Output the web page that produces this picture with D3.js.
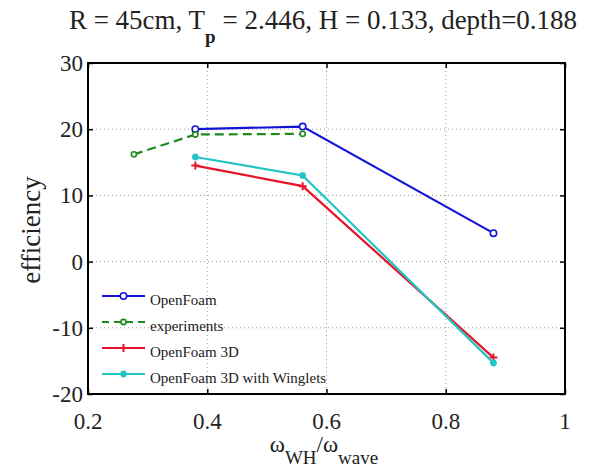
<!DOCTYPE html>
<html>
<head>
<meta charset="utf-8">
<script src="https://cdn.jsdelivr.net/npm/d3@7"></script>
<style>
  body { margin: 0; background: #fff; }
  svg { display: block; }
  text { font-family: "Liberation Serif", "Times New Roman", serif; fill: #222; }
  .grid line { stroke: #999; stroke-width: 1; stroke-dasharray: 1,3; }
</style>
</head>
<body>
<script>
// axis ticks
var xTicks = [0.2, 0.4, 0.6, 0.8, 1];
var xTickLabels = ["0.2", "0.4", "0.6", "0.8", "1"];
var yTicks = [-20, -10, 0, 10, 20, 30];
var yTickLabels = ["-20", "-10", "0", "10", "20", "30"];

// series
var seriesNames = ["OpenFoam", "experiments", "OpenFoam 3D", "OpenFoam 3D with Winglets"];
var xOpenFoam = [0.38, 0.56, 0.88];
var yOpenFoam = [20.0, 20.4, 4.3];
var xExperiments = [0.277, 0.38, 0.56];
var yExperiments = [16.2, 19.2, 19.3];
var xOpenFoam3D = [0.38, 0.56, 0.88];
var yOpenFoam3D = [14.5, 11.4, -14.5];
var xWinglets = [0.38, 0.56, 0.88];
var yWinglets = [15.8, 13.0, -15.3];

var W = 590, H = 470;
var pLeft = 88, pRight = 565, pTop = 63, pBottom = 394;

var svg = d3.select("body").append("svg")
    .attr("width", W)
    .attr("height", H);

var x = d3.scaleLinear().domain([0.2, 1]).range([pLeft, pRight]);
var y = d3.scaleLinear().domain([-20, 30]).range([pBottom, pTop]);

/* grid */
var grid = svg.append("g").attr("class", "grid");
grid.selectAll("line.gx")
    .data(xTicks.slice(1, -1))
    .enter().append("line")
    .attr("x1", function (d) { return x(d); })
    .attr("x2", function (d) { return x(d); })
    .attr("y1", pTop).attr("y2", pBottom);
grid.selectAll("line.gy")
    .data(yTicks.slice(1, -1))
    .enter().append("line")
    .attr("y1", function (d) { return y(d); })
    .attr("y2", function (d) { return y(d); })
    .attr("x1", pLeft).attr("x2", pRight);

/* axes, ticks pointing in, on all four sides */
function styleAxis(g) {
    g.select(".domain").remove();
    g.selectAll(".tick line").attr("stroke", "#000").attr("stroke-width", 1.5);
    g.selectAll(".tick text").remove();
}
svg.append("g").attr("transform", "translate(0," + pBottom + ")")
    .call(d3.axisBottom(x).tickValues(xTicks).tickSizeInner(-5).tickSizeOuter(0)).call(styleAxis);
svg.append("g").attr("transform", "translate(0," + pTop + ")")
    .call(d3.axisTop(x).tickValues(xTicks).tickSizeInner(-5).tickSizeOuter(0)).call(styleAxis);
svg.append("g").attr("transform", "translate(" + pLeft + ",0)")
    .call(d3.axisLeft(y).tickValues(yTicks).tickSizeInner(-5).tickSizeOuter(0)).call(styleAxis);
svg.append("g").attr("transform", "translate(" + pRight + ",0)")
    .call(d3.axisRight(y).tickValues(yTicks).tickSizeInner(-5).tickSizeOuter(0)).call(styleAxis);

svg.append("rect")
    .attr("x", pLeft).attr("y", pTop)
    .attr("width", pRight - pLeft).attr("height", pBottom - pTop)
    .attr("fill", "none").attr("stroke", "#000").attr("stroke-width", 2);

/* tick labels */
svg.selectAll("text.xt")
    .data(xTicks)
    .enter().append("text")
    .attr("x", function (d) { return x(d); })
    .attr("y", 429)
    .attr("text-anchor", "middle")
    .attr("font-size", 23)
    .text(function (d, i) { return xTickLabels[i]; });

svg.selectAll("text.yt")
    .data(yTicks)
    .enter().append("text")
    .attr("x", pLeft - 5)
    .attr("y", function (d) { return y(d) + 8; })
    .attr("text-anchor", "end")
    .attr("font-size", 23)
    .text(function (d, i) { return yTickLabels[i]; });

/* title */
var title = svg.append("text")
    .attr("x", 323).attr("y", 29)
    .attr("text-anchor", "middle")
    .attr("font-size", 27);
title.append("tspan").text("R = 45cm, T");
title.append("tspan").attr("dy", 14).attr("font-size", 19).attr("font-weight", "bold").text("p");
title.append("tspan").attr("dy", -14).text(" = 2.446, H = 0.133, depth=0.188");

/* axis labels */
svg.append("text")
    .attr("transform", "translate(40,230) rotate(-90)")
    .attr("text-anchor", "middle")
    .attr("font-size", 27)
    .text("efficiency");

var xl = svg.append("text")
    .attr("x", 324).attr("y", 452)
    .attr("text-anchor", "middle")
    .attr("font-size", 23);
xl.append("tspan").text("ω");
xl.append("tspan").attr("dy", 12).attr("font-size", 19).text("WH");
xl.append("tspan").attr("dy", -12).text("/ω");
xl.append("tspan").attr("dy", 12).attr("font-size", 19).text("wave");

/* series */
var series = [
    { name: seriesNames[0], xs: xOpenFoam, ys: yOpenFoam, color: "#1414d8", dash: null, marker: "circle" },
    { name: seriesNames[1], xs: xExperiments, ys: yExperiments, color: "#1e8a1e", dash: "9,5", marker: "dot" },
    { name: seriesNames[2], xs: xOpenFoam3D, ys: yOpenFoam3D, color: "#e8142a", dash: null, marker: "plus" },
    { name: seriesNames[3], xs: xWinglets, ys: yWinglets, color: "#22c4c4", dash: null, marker: "star" }
];

var line = d3.line()
    .x(function (d) { return x(d[0]); })
    .y(function (d) { return y(d[1]); });

function drawMarker(g, type, cx, cy, color) {
    if (type === "circle" || type === "dot") {
        g.append("circle")
            .attr("cx", cx).attr("cy", cy)
            .attr("r", type === "circle" ? 3.2 : 2.6)
            .attr("fill", "#fff").attr("stroke", color).attr("stroke-width", 1.6);
    } else if (type === "plus") {
        g.append("path")
            .attr("d", "M" + (cx - 4) + "," + cy + "H" + (cx + 4) + "M" + cx + "," + (cy - 4) + "V" + (cy + 4))
            .attr("stroke", color).attr("stroke-width", 2);
    } else {
        var s = 3.5, p = "";
        for (var a = 0; a < 4; a++) {
            var ang = a * Math.PI / 4;
            p += "M" + (cx - s * Math.cos(ang)) + "," + (cy - s * Math.sin(ang)) +
                 "L" + (cx + s * Math.cos(ang)) + "," + (cy + s * Math.sin(ang));
        }
        g.append("path").attr("d", p).attr("stroke", color).attr("stroke-width", 2);
    }
}

series.forEach(function (s) {
    var pts = s.xs.map(function (v, i) { return [v, s.ys[i]]; });
    var g = svg.append("g");
    g.append("path")
        .attr("d", line(pts))
        .attr("fill", "none")
        .attr("stroke", s.color)
        .attr("stroke-width", 2.2)
        .attr("stroke-dasharray", s.dash);
    pts.forEach(function (p) { drawMarker(g, s.marker, x(p[0]), y(p[1]), s.color); });
});

/* legend (no box) */
var legY = [296, 322, 348, 374];
series.forEach(function (s, i) {
    var g = svg.append("g");
    g.append("line")
        .attr("x1", 102).attr("x2", 145)
        .attr("y1", legY[i]).attr("y2", legY[i])
        .attr("stroke", s.color).attr("stroke-width", 2)
        .attr("stroke-dasharray", s.dash ? "7,5" : null);
    drawMarker(g, s.marker, 123.5, legY[i], s.color);
    g.append("text")
        .attr("x", 150).attr("y", legY[i] + 9)
        .attr("font-size", 15)
        .text(s.name);
});
</script>
</body>
</html>
